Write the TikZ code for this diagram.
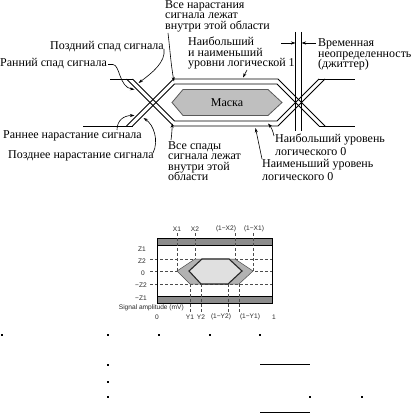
\documentclass[tikz,border=0pt]{standalone}
\usepackage{fontspec}
\setmainfont{Liberation Serif}
\newfontfamily\chartfont{Liberation Sans}
\usetikzlibrary{arrows.meta}
\begin{document}
\begin{tikzpicture}[x=1pt,y=-1pt,
  lbl/.style={font={\fontsize{12}{10.5}\selectfont\lineskiplimit=-50pt}, inner sep=0pt, align=left, anchor=base west},
  lblw/.style={lbl, font={\fontsize{12}{12.5}\selectfont\lineskiplimit=-50pt}},
  eye/.style={line width=0.75pt, line join=miter},
  ptr/.style={line width=0.6pt, -{Stealth[length=4.5pt,width=3pt]}},
  maskfill/.style={fill=black!25, draw=black!65, line width=0.8pt},
  cl/.style={font=\chartfont\fontsize{6.6}{7}\selectfont, inner sep=0pt, text=black!85},
  dline/.style={black!70, line width=0.5pt, dash pattern=on 3pt off 2pt},
  band/.style={fill=black!45, draw=black, line width=0.6pt},
  dotm/.style={fill=black}
]
\useasboundingbox (0,0) rectangle (411,414);

% ---------- eye diagram ----------
\draw[eye] (110,79) -- (132.5,79);
\draw[eye] (83,126) -- (132.5,126);
\draw[eye] (126.5,126) -- (173.5,79) -- (278,79) -- (325,126);
\draw[eye] (132.5,126) -- (174.5,84) -- (277,84) -- (319,126);
\draw[eye] (126.5,79) -- (173.5,126) -- (278,126) -- (325,79);
\draw[eye] (132.5,79) -- (174.5,121) -- (277,121) -- (319,79);
\draw[eye] (319,79) -- (355,79);
\draw[eye] (319,126) -- (355,126);
% jitter marks
\draw[eye] (295.5,32) -- (295.5,131);
\draw[eye] (301.5,32) -- (301.5,131);
\coordinate (jl) at (295.5,43);
\coordinate (jr) at (301.5,43);
\draw[ptr] (281,43) -- (jl);
\draw[ptr] (316,43) -- (jr);

% mask
\draw[maskfill] (172,102.5) -- (183,89.5) -- (268,89.5) -- (282,102.5) -- (268,115.5) -- (183,115.5) -- cycle;
\node[font=\fontsize{12}{14}\selectfont, inner sep=0pt] (masklbl) at (227,103) {Маска};

% labels (anchor = baseline of the last line)
\node[lbl] (nar) at (165,29.5) {Все нарастания\\сигнала лежат\\внутри этой области};
\node[lbl] (pozsp) at (50,50) {Поздний спад сигнала};
\node[lbl] (ransp) at (0,67) {Ранний спад сигнала};
\node[lbl] (log1) at (188,67) {Наибольший\\и наименьший\\уровни логической 1};
\node[lbl] (jit) at (318,68) {Временная\\неопределенность\\(джиттер)};
\node[lbl] (rannar) at (3,139) {Раннее нарастание сигнала};
\node[lbl] (poznar) at (8,158) {Позднее нарастание сигнала};
\node[lbl] (spady) at (168,180.5) {Все спады\\сигнала лежат\\внутри этой\\области};
\node[lblw] (max0) at (275,155) {Наибольший уровень\\логического 0};
\node[lblw] (min0) at (262,180) {Наименьший уровень\\логического 0};

% pointer targets
\coordinate (tPozSp) at (138.5,83);
\coordinate (tRanSp) at (134.5,89.5);
\coordinate (tRanNar) at (134.5,115.5);
\coordinate (tPozNar) at (143.5,118);
\coordinate (tNar) at (174,81.5);
\coordinate (tSpady) at (172.5,123.5);
\coordinate (tLog1) at (243,77.5);
\coordinate (tMax0) at (268,123.5);
\coordinate (tMin0) at (255.5,128);

\draw[ptr] (164,49) .. controls (166,62) and (152,73) .. (tPozSp);
\draw[ptr] (108,64.5) -- (113,64.5) .. controls (120,65) and (119,87) .. (tRanSp);
\draw[ptr] (117,130) .. controls (117,120) and (124,115.5) .. (tRanNar);
\draw[ptr] (153,153) .. controls (159,141) and (154,125) .. (tPozNar);
\draw[ptr] (168,33) .. controls (170,50) and (171,65) .. (tNar);
\draw[ptr] (171,140) .. controls (172,133) and (172,128) .. (tSpady);
\draw[ptr] (247,70) -- (tLog1);
\draw[ptr] (274,136) .. controls (273,131) and (271,127) .. (tMax0);
\draw[ptr] (262,159) .. controls (259,145) .. (tMin0);

% ---------- mask chart ----------
\draw[dline] (150,259) -- (272,259);
\draw[dline] (150,271) -- (272,271);
\draw[dline] (150,284) -- (272,284);
\draw[fill=black!30, draw=black!70, line width=0.5pt] (177,271) -- (195,259) -- (235,259) -- (253,271) -- (239,284) -- (190,284) -- cycle;
\draw[fill=black!12, draw=black!85, line width=1.1pt, line join=miter] (189,271) -- (202,259) -- (229,259) -- (242,271) -- (228,284) -- (201,284) -- cycle;
\draw[band] (157,238) rectangle (272,245);
\draw[band] (157,296) rectangle (272,303);
\draw[line width=0.6pt] (157,238) rectangle (272,303);
\draw[dline] (177,233) -- (177,271);
\draw[dline] (195,233) -- (195,259);
\draw[dline] (235,233) -- (235,259);
\draw[dline] (253,233) -- (253,271);
\draw[dline] (190,284) -- (190,312);
\draw[dline] (201,284) -- (201,312);
\draw[dline] (228,284) -- (228,312);
\draw[dline] (239,284) -- (239,312);

\node[cl] (x1) at (177,229) {X1};
\node[cl] (x2) at (195,229) {X2};
\node[cl] (x3) at (226,229) {(1−X2)};
\node[cl] (x4) at (254,229) {(1−X1)};
\node[cl] (z1) at (142,249) {Z1};
\node[cl] (z2) at (142,261) {Z2};
\node[cl] (z0) at (143,273) {0};
\node[cl] (z3) at (141,285) {−Z2};
\node[cl] (z4) at (141,298.5) {−Z1};
\node[cl, anchor=east] (sa) at (184,308) {Signal amplitude (mV)};
\node[cl] (y0) at (157,317) {0};
\node[cl] (y1) at (190,317) {Y1};
\node[cl] (y2) at (201,317) {Y2};
\node[cl] (y3) at (221,317) {(1−Y2)};
\node[cl] (y4) at (250,317) {(1−Y1)};
\node[cl] (y5) at (274,317) {1};

% ---------- stray marks below ----------
\foreach \px/\py in {2/335, 108/335, 159/335, 210/335, 260/335, 108/365, 108/382, 108/397, 310/397, 362/397}
  \fill[dotm] (\px-0.8,\py-0.8) rectangle (\px+0.8,\py+0.8);
\draw[line width=0.8pt] (260,364) -- (310,364);
\draw[line width=0.8pt] (260,412) -- (310,412);
\end{tikzpicture}
\end{document}
